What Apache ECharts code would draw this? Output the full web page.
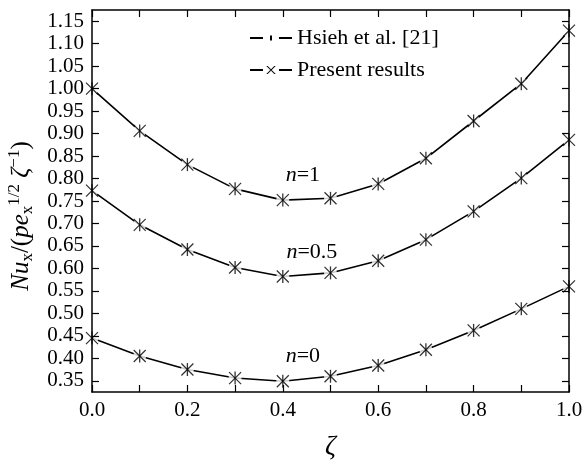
<!DOCTYPE html>
<html>
<head>
<meta charset="utf-8">
<script src="https://cdn.jsdelivr.net/npm/echarts@6/dist/echarts.min.js"></script>
<style>html,body{margin:0;padding:0;background:#fff}#c{width:584px;height:463px}</style>
</head>
<body>
<div id="c"></div>
<script>
// ---- data ----
var zeta = [0.0, 0.1, 0.2, 0.3, 0.4, 0.5, 0.6, 0.7, 0.8, 0.9, 1.0];
var nu_n1  = [1.000, 0.906, 0.831, 0.777, 0.752, 0.756, 0.788, 0.845, 0.928, 1.011, 1.129];
var nu_n05 = [0.773, 0.697, 0.642, 0.602, 0.582, 0.590, 0.617, 0.664, 0.727, 0.801, 0.886];
var nu_n0  = [0.445, 0.405, 0.375, 0.356, 0.349, 0.360, 0.384, 0.419, 0.462, 0.510, 0.560];
var curveNames = ['1', '0.5', '0'];
var curveLabelAt = [[0.442, 0.808], [0.461, 0.637], [0.442, 0.405]];
var xTicks = [0.0, 0.1, 0.2, 0.3, 0.4, 0.5, 0.6, 0.7, 0.8, 0.9, 1.0];
var xLabels = [0.0, 0.2, 0.4, 0.6, 0.8, 1.0];
var yTicks = [0.35, 0.40, 0.45, 0.50, 0.55, 0.60, 0.65, 0.70, 0.75, 0.80, 0.85, 0.90, 0.95, 1.00, 1.05, 1.10, 1.15];
var legendNames = ['Hsieh et al. [21]', 'Present results'];

var FONT = '"Liberation Serif", "Times New Roman", serif';
var curves = [nu_n1, nu_n05, nu_n0];

function pairs(ys) { return zeta.map(function (x, i) { return [x, ys[i]]; }); }

var series = [];
curves.forEach(function (ys, k) {
  var d = pairs(ys);
  series.push({
    name: legendNames[1], type: 'line', data: d, showSymbol: false, z: 2,
    lineStyle: { color: '#000', width: 1.6 }, itemStyle: { color: '#000' },
    markPoint: {
      symbol: 'circle', symbolSize: 0, silent: true,
      label: {
        show: true, position: 'inside', color: '#000', fontFamily: FONT, fontSize: 22,
        formatter: '{i|n}=' + curveNames[k],
        rich: { i: { fontStyle: 'italic', fontFamily: FONT, fontSize: 22 } }
      },
      data: [{ coord: curveLabelAt[k] }]
    }
  });
  series.push({
    name: 'gap', type: 'scatter', data: d, symbol: 'circle', symbolSize: 13, z: 3, silent: true,
    itemStyle: { color: '#fff' }
  });
  series.push({
    name: legendNames[1], type: 'scatter', data: d, z: 4,
    symbol: 'path://M0,0 L10,10 M10,0 L0,10', symbolSize: 12,
    itemStyle: { color: 'transparent', borderColor: '#000', borderWidth: 1.25 }
  });
  series.push({
    name: legendNames[0], type: 'scatter', data: d, z: 4,
    symbol: 'rect', symbolSize: [1.3, 13],
    itemStyle: { color: '#000' }
  });
});

var tickStyle = { show: true, inside: true, length: 7, lineStyle: { color: '#000', width: 1.2 } };
var lineStyle = { show: true, onZero: false, lineStyle: { color: '#000', width: 1.5 } };

var option = {
  animation: false,
  backgroundColor: '#fff',
  grid: { left: 92, right: 15, top: 10, bottom: 71, outerBoundsMode: 'none', containLabel: false },
  legend: {
    orient: 'vertical', left: 245, top: 22, itemWidth: 42, itemHeight: 12, itemGap: 10,
    textStyle: { fontFamily: FONT, fontSize: 22, color: '#000', lineHeight: 22 },
    itemStyle: { color: '#000', borderWidth: 0, opacity: 1 },
    data: [
      { name: legendNames[0], icon: 'path://M0,5 L13,5 L13,7 L0,7 Z M20,3.5 L22,3.5 L22,8.5 L20,8.5 Z M29,5 L42,5 L42,7 L29,7 Z' },
      { name: legendNames[1], icon: 'path://M0,5 L13,5 L13,7 L0,7 Z M16.3,2 L17.7,2 L25.7,10 L24.3,10 Z M24.3,2 L25.7,2 L17.7,10 L16.3,10 Z M29,5 L42,5 L42,7 L29,7 Z' }
    ]
  },
  xAxis: [{
    type: 'value', min: 0, max: 1, position: 'bottom', z: 10,
    axisLine: lineStyle,
    axisTick: Object.assign({ customValues: xTicks }, tickStyle),
    axisLabel: {
      customValues: xLabels, margin: 8, color: '#000', fontFamily: FONT, fontSize: 21,
      formatter: function (v) { return v.toFixed(1); }
    },
    splitLine: { show: false },
    name: 'ζ', nameLocation: 'middle', nameGap: 41,
    nameTextStyle: { fontFamily: FONT, fontSize: 27, fontStyle: 'italic', color: '#000' }
  }, {
    type: 'value', min: 0, max: 1, position: 'top', z: 10,
    axisLine: lineStyle,
    axisTick: Object.assign({ customValues: xTicks }, tickStyle),
    axisLabel: { show: false }, splitLine: { show: false }
  }],
  yAxis: [{
    type: 'value', min: 0.325, max: 1.175, position: 'left', z: 10,
    axisLine: lineStyle,
    axisTick: Object.assign({ customValues: yTicks }, tickStyle),
    axisLabel: {
      customValues: yTicks, margin: 8, color: '#000', fontFamily: FONT, fontSize: 21,
      formatter: function (v) { return v.toFixed(2); }
    },
    splitLine: { show: false },
    name: '{ni|Nu}{sub|x}{n|/(}{ni|pe}{sub|x}{sup|1/2}{n| }{ni|ζ}{sup|−1}{n|)}',
    nameLocation: 'middle', nameRotate: 90, nameGap: 44,
    nameTextStyle: {
      color: '#000', fontFamily: FONT, fontSize: 25, padding: [0, 30, 0, 0],
      rich: {
        n:   { fontFamily: FONT, fontSize: 25, lineHeight: 30, color: '#000' },
        ni:  { fontFamily: FONT, fontSize: 25, fontStyle: 'italic', lineHeight: 30, color: '#000' },
        sub: { fontFamily: FONT, fontSize: 17, lineHeight: 17, verticalAlign: 'bottom', color: '#000' },
        sup: { fontFamily: FONT, fontSize: 17, lineHeight: 17, verticalAlign: 'top', color: '#000' }
      }
    }
  }, {
    type: 'value', min: 0.325, max: 1.175, position: 'right', z: 10,
    axisLine: lineStyle,
    axisTick: Object.assign({ customValues: yTicks }, tickStyle),
    axisLabel: { show: false }, splitLine: { show: false }
  }],
  series: series
};

var chart = echarts.init(document.getElementById('c'), null, { renderer: 'canvas' });
chart.setOption(option);
</script>
</body>
</html>
